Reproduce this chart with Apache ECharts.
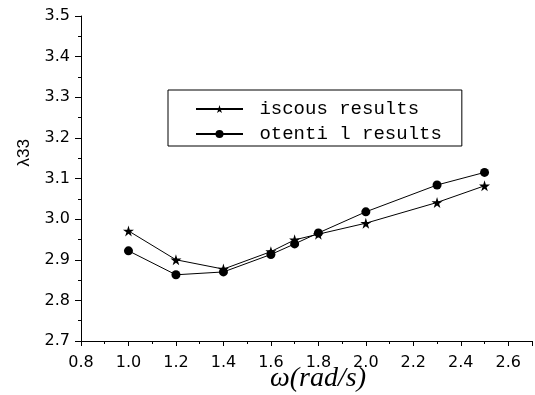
<!DOCTYPE html>
<html>
<head>
<meta charset="utf-8">
<script src="https://cdn.jsdelivr.net/npm/echarts@6/dist/echarts.min.js"></script>
<style>
html,body{margin:0;padding:0;background:#fff;}
#chart{width:535px;height:395px;}
</style>
</head>
<body>
<div id="chart"></div>
<script>
var omega = [1.0, 1.2, 1.4, 1.6, 1.7, 1.8, 2.0, 2.3, 2.5];
var viscous = [2.971, 2.900, 2.877, 2.920, 2.949, 2.963, 2.990, 3.041, 3.082];
var potential = [2.922, 2.863, 2.870, 2.913, 2.939, 2.966, 3.018, 3.084, 3.115];
var seriesNames = ['iscous results', 'otenti l results'];
var xTitle = 'ω(rad/s)';
var yTitle = 'λ33';

var star = 'path://M50,0 L61,35 L98,35 L68,57 L79,91 L50,70 L21,91 L32,57 L2,35 L39,35 Z';

function pairs(xs, ys) { return xs.map(function (x, i) { return [x, ys[i]]; }); }

var chart = echarts.init(document.getElementById('chart'));
chart.setOption({
  animation: false,
  backgroundColor: '#fff',
  grid: { left: 81, top: 16, right: 2, bottom: 54 },
  xAxis: {
    type: 'value', min: 0.8, max: 2.7, interval: 0.2,
    axisLine: { show: true, lineStyle: { color: '#000', width: 1 } },
    axisTick: { show: true, length: 5, inside: false, lineStyle: { color: '#000' } },
    minorTick: { show: true, splitNumber: 2, length: 3, lineStyle: { color: '#000' } },
    splitLine: { show: false },
    axisLabel: {
      color: '#000', fontFamily: 'DejaVu Sans', fontSize: 16, margin: 14,
      formatter: function (v) { return v > 2.65 ? '' : v.toFixed(1); }
    }
  },
  yAxis: {
    type: 'value', min: 2.7, max: 3.5, interval: 0.1,
    axisLine: { show: true, lineStyle: { color: '#000', width: 1 } },
    axisTick: { show: true, length: 6, inside: false, lineStyle: { color: '#000' } },
    minorTick: { show: true, splitNumber: 2, length: 3, lineStyle: { color: '#000' } },
    splitLine: { show: false },
    axisLabel: {
      color: '#000', fontFamily: 'DejaVu Sans', fontSize: 16, margin: 11,
      formatter: function (v) { return v.toFixed(1); }
    }
  },
  legend: {
    orient: 'vertical', left: 168, top: 90,
    borderColor: '#000', borderWidth: 1,
    padding: [9, 20, 2, 27],
    itemWidth: 47, itemHeight: 10, itemGap: 5,
    textStyle: { fontFamily: 'Liberation Mono', fontSize: 19, color: '#000', lineHeight: 20 },
    formatter: function (n) { return ' ' + n; },
    data: seriesNames
  },
  graphic: [
    { type: 'text', left: 16, top: 139, rotation: Math.PI / 2,
      style: { text: yTitle, font: '17px "Liberation Sans"', fill: '#000' } },
    { type: 'text', left: 270, top: 365,
      style: { text: xTitle, font: 'italic 28px "Liberation Serif"', fill: '#000' } }
  ],
  series: [
    { name: seriesNames[0], type: 'line', data: pairs(omega, viscous),
      symbol: star, symbolSize: 11, color: '#000',
      lineStyle: { color: '#000', width: 1 }, itemStyle: { color: '#000' } },
    { name: seriesNames[1], type: 'line', data: pairs(omega, potential),
      symbol: 'circle', symbolSize: 9, color: '#000',
      lineStyle: { color: '#000', width: 1 }, itemStyle: { color: '#000' } }
  ]
});
</script>
</body>
</html>
